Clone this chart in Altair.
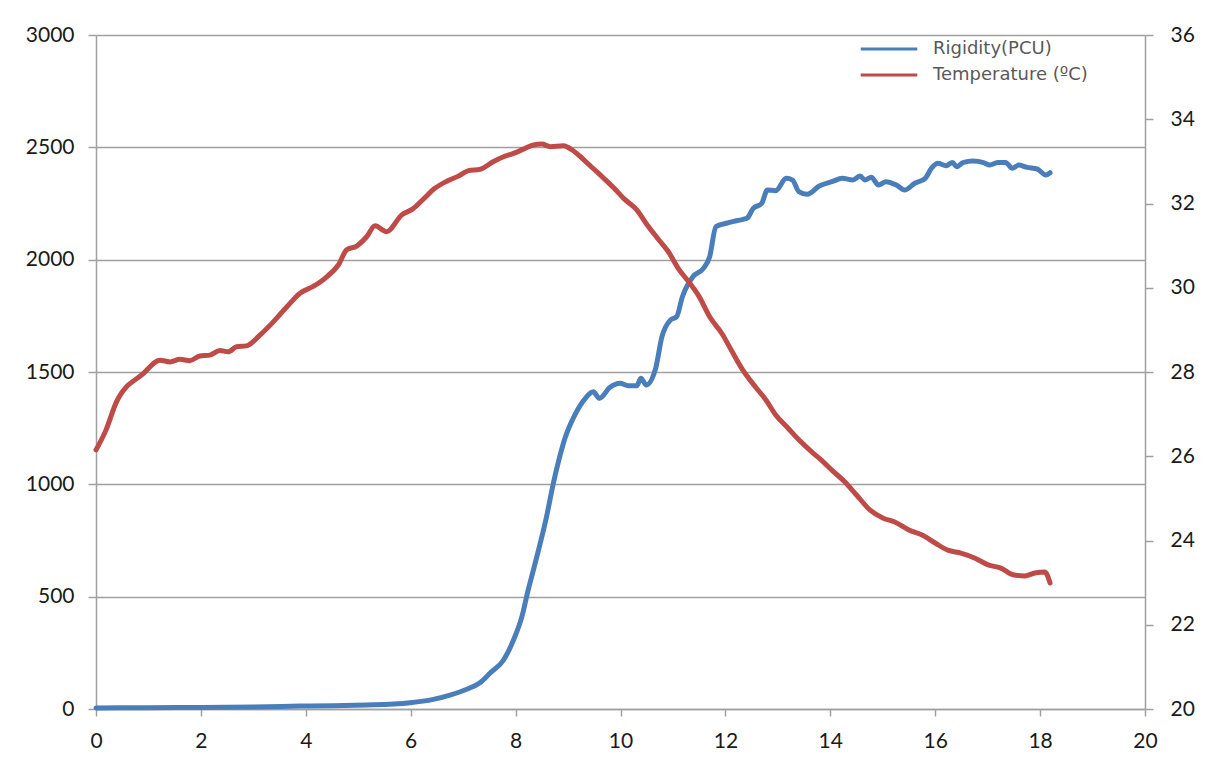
import altair as alt
import pandas as pd

# Rigidity (PCU), left axis
rig_t = [0, 1, 2, 3, 3.89, 4.52, 5.16, 5.67, 5.99, 6.43, 6.75, 7.07, 7.32, 7.51,
         7.77, 7.96, 8.12, 8.24, 8.34, 8.47, 8.59, 8.72, 8.81, 8.93, 9.13, 9.33,
         9.48, 9.60, 9.80, 9.99, 10.15, 10.31, 10.39, 10.49, 10.67, 10.79, 10.95,
         11.07, 11.18, 11.38, 11.58, 11.70, 11.82, 12.02, 12.21, 12.41, 12.53,
         12.69, 12.80, 12.96, 13.16, 13.28, 13.40, 13.56, 13.79, 14.03, 14.23,
         14.43, 14.57, 14.66, 14.78, 14.92, 15.06, 15.26, 15.42, 15.61, 15.81,
         15.93, 16.05, 16.21, 16.33, 16.41, 16.53, 16.72, 16.92, 17.04, 17.19,
         17.34, 17.47, 17.59, 17.75, 17.95, 18.11, 18.19]
rig_v = [5, 6, 7, 9, 13, 15, 18, 22, 28, 43, 62, 88, 117, 159, 218, 307, 411, 530,
         619, 738, 856, 1005, 1094, 1197, 1309, 1383, 1412, 1383, 1432, 1450, 1439,
         1439, 1472, 1442, 1516, 1657, 1731, 1746, 1835, 1924, 1961, 2013, 2147,
         2162, 2173, 2184, 2228, 2250, 2310, 2307, 2362, 2354, 2303, 2291, 2328,
         2347, 2362, 2355, 2372, 2355, 2367, 2332, 2347, 2332, 2310, 2340, 2362,
         2407, 2429, 2418, 2433, 2414, 2432, 2439, 2432, 2421, 2432, 2433, 2407,
         2421, 2411, 2403, 2377, 2387]

# Temperature (°C), right axis
temp_t = [0.0, 0.19, 0.39, 0.90, 1.22, 1.41, 1.60, 1.79, 1.98, 2.17, 2.36, 2.52,
          2.68, 2.87, 3.13, 3.38, 3.64, 3.89, 4.14, 4.40, 4.62, 4.78, 4.97, 5.16,
          5.32, 5.54, 5.83, 6.05, 6.24, 6.46, 6.69, 6.91, 7.10, 7.32, 7.57, 7.77,
          7.96, 8.15, 8.34, 8.50, 8.66, 8.91, 9.08, 9.29, 9.48, 9.68, 9.88, 10.07,
          10.31, 10.51, 10.71, 10.91, 11.10, 11.30, 11.50, 11.70, 11.93, 12.13,
          12.33, 12.57, 12.77, 12.96, 13.20, 13.40, 13.64, 13.83, 14.03, 14.27,
          14.50, 14.76, 15.01, 15.23, 15.50, 15.75, 16.00, 16.24, 16.49, 16.76,
          17.01, 17.24, 17.50, 17.71, 17.90, 18.09, 18.19]
temp_v = [26.15, 26.62, 27.29, 27.96, 28.28, 28.24, 28.30, 28.27, 28.38, 28.40,
          28.51, 28.48, 28.60, 28.62, 28.88, 29.19, 29.55, 29.87, 30.03, 30.26,
          30.54, 30.90, 30.99, 31.21, 31.47, 31.33, 31.73, 31.88, 32.10, 32.36,
          32.53, 32.65, 32.78, 32.81, 32.99, 33.11, 33.19, 33.29, 33.39, 33.41,
          33.35, 33.37, 33.27, 33.05, 32.83, 32.60, 32.36, 32.11, 31.85, 31.49,
          31.17, 30.86, 30.46, 30.14, 29.79, 29.31, 28.92, 28.48, 28.05, 27.65,
          27.34, 26.98, 26.66, 26.39, 26.11, 25.91, 25.67, 25.40, 25.08, 24.72,
          24.53, 24.44, 24.25, 24.13, 23.94, 23.77, 23.70, 23.58, 23.42, 23.35,
          23.18, 23.16, 23.23, 23.25, 22.99]

series_names = ["Rigidity(PCU)", "Temperature (\u00baC)"]
series_colors = ["#4a7ebb", "#be4b48"]
x_ticks = list(range(0, 21, 2))
left_ticks = list(range(0, 3001, 500))
right_ticks = list(range(20, 37, 2))

rig = pd.DataFrame({"t": rig_t, "v": rig_v, "series": series_names[0]})
temp = pd.DataFrame({"t": temp_t, "v": temp_v, "series": series_names[1]})

AX = "#a0a0a0"
LBL_FONT = "Lato"

x_enc = alt.X("t:Q", scale=alt.Scale(domain=[0, 20], nice=False, zero=False),
              axis=alt.Axis(values=x_ticks, title=None, grid=False, tickSize=7,
                            labelPadding=14, format="d", labelFlush=False))

color_enc = alt.Color(
    "series:N",
    scale=alt.Scale(domain=series_names, range=series_colors),
    legend=alt.Legend(
        title=None, orient="none", legendX=784, legendY=5,
        symbolType="M-4,0H4", symbolStrokeWidth=3, symbolSize=200,
        symbolFillColor="transparent",
        labelFont="DejaVu Sans", labelFontSize=18, labelColor="#595959",
        labelOffset=35, padding=0, rowPadding=8,
    ),
)

mk = dict(strokeWidth=5, strokeJoin="round", strokeCap="round", interpolate="monotone")

line_rig = alt.Chart(rig).mark_line(**mk).encode(
    x=x_enc,
    y=alt.Y("v:Q", scale=alt.Scale(domain=[0, 3000], nice=False),
            axis=alt.Axis(values=left_ticks, title=None, grid=True, orient="left",
                          tickSize=8, labelPadding=14, format="d")),
    color=color_enc,
)

line_temp = alt.Chart(temp).mark_line(**mk).encode(
    x=x_enc,
    y=alt.Y("v:Q", scale=alt.Scale(domain=[20, 36], nice=False, zero=False),
            axis=alt.Axis(values=right_ticks, title=None, grid=False, orient="right",
                          tickSize=8, labelPadding=17, format="d")),
    color=color_enc,
)

chart = alt.layer(line_rig, line_temp).resolve_scale(y="independent").properties(
    width=1049, height=674,
    autosize=alt.AutoSizeParams(type="none"),
    padding={"left": 88, "top": 27, "right": 50, "bottom": 48},
).configure_view(stroke=None).configure_axis(
    domainColor=AX, domainWidth=1.5, tickColor=AX, tickWidth=1.5,
    gridColor=AX, gridWidth=1.5, labelFont=LBL_FONT, labelFontSize=21,
    labelColor="#1a1a1a",
)

chart.save("out.html", embed_options={"renderer": "svg", "actions": False})
